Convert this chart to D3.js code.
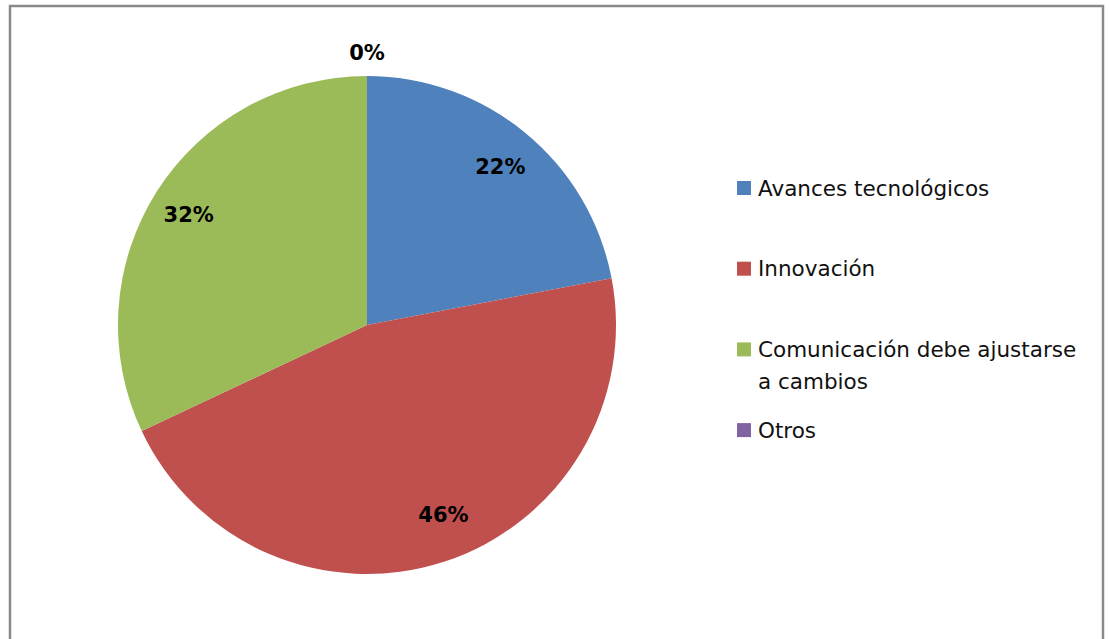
<!DOCTYPE html>
<html>
<head>
<meta charset="utf-8">
<title>Pie</title>
<script src="https://cdn.jsdelivr.net/npm/d3@7"></script>
<style>
 body { margin: 0; background: #fff; }
 text { font-family: "DejaVu Sans", sans-serif; }
</style>
</head>
<body>
<svg id="chart" width="1109" height="639"></svg>
<script>
// data
var categories = ["Avances tecnológicos", "Innovación", "Comunicación debe ajustarse a cambios", "Otros"];
var legendLines = [["Avances tecnológicos"], ["Innovación"], ["Comunicación debe ajustarse", "a cambios"], ["Otros"]];
var values = [22, 46, 32, 0];
var colors = ["#4F81BD", "#C0504D", "#9BBB59", "#8064A2"];

// layout tweaks for the labels
var labelShift = [0.5, -4, -0.5, 0];   // degrees
var labelRadius = [207, 204, 210, 273];

var svg = d3.select("#chart");

svg.append("rect")
  .attr("x", 10).attr("y", 6)
  .attr("width", 1093).attr("height", 700)
  .attr("fill", "#fff")
  .attr("stroke", "#8a8a8a")
  .attr("stroke-width", 2.5);

var cx = 367, cy = 325, r = 249;

var pie = d3.pie().sort(null).value(function(d) { return d; });
var arcs = pie(values);

var arc = d3.arc().innerRadius(0).outerRadius(r);

var g = svg.append("g").attr("transform", "translate(" + cx + "," + cy + ")");

g.selectAll("path")
  .data(arcs)
  .enter().append("path")
  .attr("d", arc)
  .attr("fill", function(d, i) { return colors[i]; });

// percentage labels
g.selectAll("text.lbl")
  .data(arcs)
  .enter().append("text")
  .attr("class", "lbl")
  .attr("text-anchor", "middle")
  .attr("font-weight", "bold")
  .attr("font-size", 21)
  .attr("fill", "#000")
  .attr("transform", function(d, i) {
    var a = (d.startAngle + d.endAngle) / 2 + labelShift[i] * Math.PI / 180;
    var x = labelRadius[i] * Math.sin(a);
    var y = -labelRadius[i] * Math.cos(a);
    return "translate(" + x + "," + (y + 7.5) + ")";
  })
  .text(function(d) { return d3.format(".0%")(d.data / 100); });

// legend
var lg = svg.append("g").attr("transform", "translate(737,181)");
var item = lg.selectAll("g")
  .data(categories)
  .enter().append("g")
  .attr("transform", function(d, i) { return "translate(0," + (i * 80.7) + ")"; });

item.append("rect")
  .attr("width", 14).attr("height", 14)
  .attr("fill", function(d, i) { return colors[i]; });

item.append("text")
  .attr("x", 21)
  .attr("y", 14.5)
  .attr("font-size", 21.5)
  .attr("fill", "#111")
  .each(function(d, i) {
    var t = d3.select(this);
    legendLines[i].forEach(function(line, k) {
      t.append("tspan").attr("x", 21).attr("dy", k === 0 ? 0 : 32).text(line);
    });
  });
</script>
</body>
</html>
